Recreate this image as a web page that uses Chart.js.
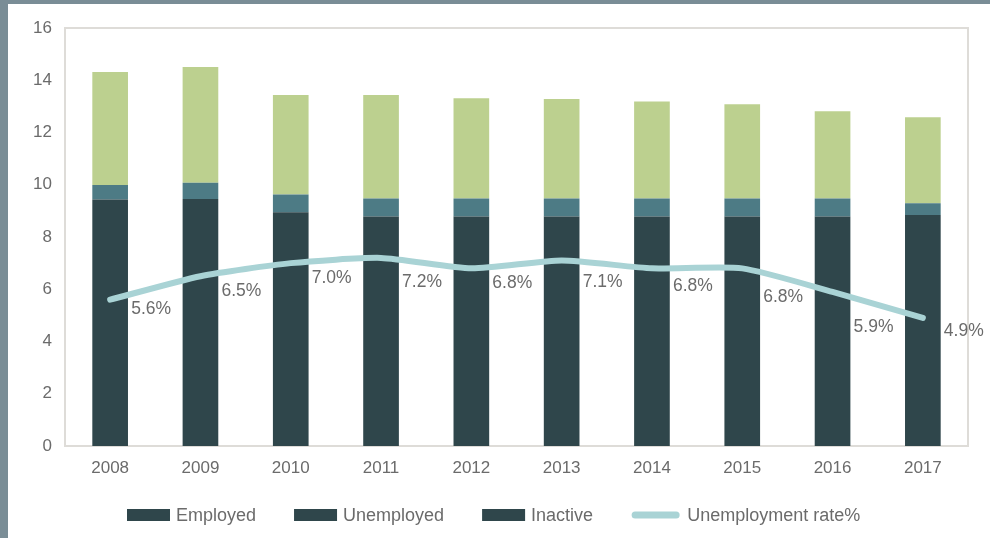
<!DOCTYPE html>
<html>
<head>
<meta charset="utf-8">
<script src="https://cdn.jsdelivr.net/npm/chart.js@4.4.1/dist/chart.umd.min.js"></script>
<style>
  html, body { margin: 0; padding: 0; background: #fff; }
  #frame {
    width: 990px; height: 538px; box-sizing: border-box;
    border-left: 8px solid #7a8d96; border-top: 4px solid #7a8d96;
    background: #fff;
  }
  #chart { display: block; }
</style>
</head>
<body>
<div id="frame"><canvas id="chart" width="982" height="534"></canvas></div>
<script>
// years on the x axis
const YEARS = ["2008", "2009", "2010", "2011", "2012", "2013", "2014", "2015", "2016", "2017"];

// stacked segments (millions)
const EMPLOYED   = [9.44, 9.45, 8.95, 8.78, 8.78, 8.78, 8.78, 8.78, 8.78, 8.84];
const UNEMPLOYED = [0.55, 0.63, 0.68, 0.69, 0.69, 0.69, 0.69, 0.69, 0.69, 0.45];
const INACTIVE   = [4.33, 4.43, 3.81, 3.97, 3.84, 3.81, 3.72, 3.61, 3.34, 3.29];

// unemployment rate, %
const RATE = [5.6, 6.5, 7.0, 7.2, 6.8, 7.1, 6.8, 6.8, 5.9, 4.9];

const Y_TICKS = [0, 2, 4, 6, 8, 10, 12, 14, 16];

const FONT = "'Liberation Sans', Arial, sans-serif";
const TEXT = "#6b6b6b";
const DARK = "#2f464b";
const TEAL = "#4d7b85";
const GREEN = "#bcd08f";
const LINE = "#a9d3d5";

// vertical nudges for the rate labels (below each point)
const LABEL_DY = [9, 15, 15, 24, 15, 22, 18, 29, 35, 13];

// light frame round the plot area
const plotBox = {
  id: "plotBox",
  beforeDatasetsDraw(chart) {
    const a = chart.chartArea, ctx = chart.ctx;
    ctx.save();
    ctx.strokeStyle = "#dedcd8";
    ctx.lineWidth = 2;
    ctx.strokeRect(a.left, a.top, a.right - a.left, a.bottom - a.top);
    ctx.restore();
  }
};

// "5.6%" style labels next to the rate line
const rateLabels = {
  id: "rateLabels",
  afterDatasetsDraw(chart) {
    const idx = chart.data.datasets.findIndex(d => d.type === "line");
    const meta = chart.getDatasetMeta(idx);
    const ctx = chart.ctx;
    ctx.save();
    ctx.font = "17.5px " + FONT;
    ctx.fillStyle = TEXT;
    ctx.textAlign = "left";
    ctx.textBaseline = "middle";
    meta.data.forEach((pt, i) => {
      const v = chart.data.datasets[idx].data[i];
      ctx.fillText(v.toFixed(1) + "%", pt.x + 21, pt.y + LABEL_DY[i]);
    });
    ctx.restore();
  }
};

// legend row under the axis (every bar swatch is drawn dark)
const bottomLegend = {
  id: "bottomLegend",
  afterDraw(chart) {
    const ctx = chart.ctx;
    const y = 511;
    let x = 119;
    ctx.save();
    ctx.font = "18px " + FONT;
    ctx.textBaseline = "middle";
    ctx.textAlign = "left";
    chart.data.datasets.forEach(ds => {
      if (ds.type === "line") {
        ctx.strokeStyle = LINE;
        ctx.lineWidth = 7;
        ctx.lineCap = "round";
        ctx.beginPath();
        ctx.moveTo(x + 4, y);
        ctx.lineTo(x + 45, y);
        ctx.stroke();
        x += 56;
      } else {
        ctx.fillStyle = DARK;
        ctx.fillRect(x, y - 6, 43, 12);
        x += 49;
      }
      ctx.fillStyle = TEXT;
      ctx.fillText(ds.label, x, y + 1);
      x += ctx.measureText(ds.label).width + 38;
    });
    ctx.restore();
  }
};

const ctx = document.getElementById("chart").getContext("2d");
new Chart(ctx, {
  data: {
    labels: YEARS,
    datasets: [
      { type: "bar", label: "Employed", data: EMPLOYED, backgroundColor: DARK, order: 1 },
      { type: "bar", label: "Unemployed", data: UNEMPLOYED, backgroundColor: TEAL, order: 1 },
      { type: "bar", label: "Inactive", data: INACTIVE, backgroundColor: GREEN, order: 1 },
      { type: "line", label: "Unemployment rate%", data: RATE, stack: "rate",
        borderColor: LINE, backgroundColor: LINE, borderWidth: 6, pointRadius: 0,
        tension: 0.2, borderCapStyle: "round", borderJoinStyle: "round", order: 0 }
    ]
  },
  options: {
    responsive: false,
    animation: false,
    layout: { padding: { top: 24, right: 22, left: 0, bottom: 52 } },
    datasets: { bar: { categoryPercentage: 1, barPercentage: 0.395 } },
    plugins: { legend: { display: false }, tooltip: { enabled: false } },
    scales: {
      x: {
        stacked: true,
        grid: { display: false, drawTicks: false },
        border: { display: false },
        ticks: { color: TEXT, font: { family: FONT, size: 17 }, padding: 12 },
        afterFit(s) { s.height = 40; }
      },
      y: {
        stacked: true,
        min: 0, max: 16,
        grid: { display: false, drawTicks: false },
        border: { display: false },
        afterBuildTicks(s) { s.ticks = Y_TICKS.map(v => ({ value: v })); },
        ticks: { color: TEXT, font: { family: FONT, size: 17 }, padding: 13 },
        afterFit(s) { s.width = 57; }
      }
    }
  },
  plugins: [plotBox, rateLabels, bottomLegend]
});
</script>
</body>
</html>
